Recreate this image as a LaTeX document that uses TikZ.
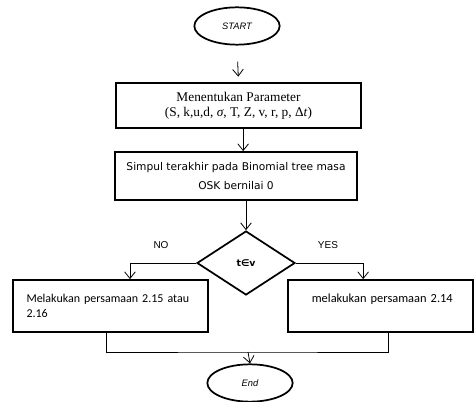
\documentclass[tikz,border=0pt]{standalone}
\usepackage{fontspec}
\setmainfont{Liberation Sans}
\newfontfamily\paramfont{Liberation Serif}
\newfontfamily\verdfont{DejaVu Sans}
\newfontfamily\califont{Carlito}
\usetikzlibrary{shapes.geometric,arrows.meta}

\begin{document}
\begin{tikzpicture}[x=0.75pt,y=0.75pt,yscale=-1,xscale=1,
  terminal/.style={draw,ellipse,line width=1.3pt,minimum width=64pt,minimum height=28pt,inner sep=0pt,font=\fontsize{7}{8}\selectfont\itshape},
  box/.style={draw,rectangle,line width=1.3pt,inner sep=0pt},
  decision/.style={draw,diamond,line width=1.3pt,inner sep=0pt,minimum width=73.5pt,minimum height=48pt},
  line/.style={line width=0.6pt},
  arr/.style={line width=0.6pt,-{Straight Barb[length=5pt,width=8pt]}}]
\useasboundingbox (0,0) rectangle (475,402);

%Shape: Ellipse [START]
\node [terminal] (start) at (237,26) {START};

%Shape: Rectangle [parameter]
\node [box,minimum width=184pt,minimum height=34pt,align=center,
  font=\paramfont\fontsize{10}{11}\selectfont] (param) at (238.5,105.5)
  {Menentukan Parameter\\(S, k,u,d, \textit{σ}, T, Z, v, r, p, Δ\textit{t})};

%Shape: Rectangle [simpul]
\node [box,minimum width=181.5pt,minimum height=36pt,align=center,
  font=\verdfont\fontsize{8}{14}\selectfont] (simpul) at (236,176)
  {Simpul terakhir pada Binomial tree masa\\OSK bernilai 0};

%Shape: Diamond
\node [decision,font=\verdfont\bfseries\fontsize{7}{8}\selectfont] (cond) at (246,263) {t∈v};

%Text: NO / YES
\node [font=\fontsize{7.5}{9}\selectfont] (no) at (161,245) {NO};
\node [font=\fontsize{7.5}{9}\selectfont] (yes) at (328,245) {YES};

%Shape: Rectangle [left]
\node [box,minimum height=39pt,inner xsep=10pt,text width=126pt,align=left,
  font=\califont\fontsize{9}{11}\selectfont] (lbox) at (110.5,306)
  {Melakukan persamaan 2.15 atau\\2.16};

%Shape: Rectangle [right]
\node [box,minimum height=39pt,inner xsep=11.9pt,text width=115pt,align=left,
  font=\califont\fontsize{9.3}{11}\selectfont] (rbox) at (380.5,306)
  {\hspace*{6pt}melakukan persamaan 2.14\\~};

%Shape: Ellipse [End]
\node [terminal] (end) at (250,383) {End};

\coordinate (merge) at (248,352);

%Straight Lines
\draw [arr,shorten <=12pt,shorten >=4pt] (start.south) -- (param.north);
\draw [arr] ([xshift=3.5pt]param.south) -- ([xshift=3.5pt]param.south |- simpul.north);
\draw [arr] (simpul.south -| cond.north) -- (cond.north);
\draw [arr] (cond.west) -| ([xshift=14.6pt]lbox.north);
\draw [arr] (cond.east) -| ([xshift=-13pt]rbox.north);
\draw [line] ([xshift=-3.4pt]lbox.south) |- (merge) -| ([xshift=6pt]rbox.south);
\draw [arr] (merge) -- (end.north);

\end{tikzpicture}
\end{document}
